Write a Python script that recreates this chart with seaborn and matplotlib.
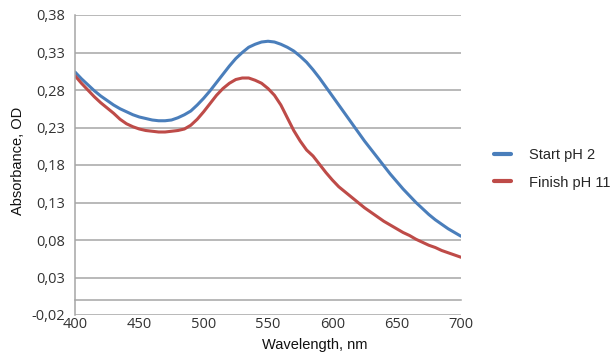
import matplotlib
matplotlib.use("Agg")
import matplotlib.pyplot as plt
from matplotlib.ticker import FuncFormatter
import pandas as pd
import seaborn as sns

# wavelength grid (nm) and absorbance
wavelength = [400, 405, 410, 415, 420, 425, 430, 435, 440, 445,
              450, 455, 460, 465, 470, 475, 480, 485, 490, 495,
              500, 505, 510, 515, 520, 525, 530, 535, 540, 545,
              550, 555, 560, 565, 570, 575, 580, 585, 590, 595,
              600, 605, 610, 615, 620, 625, 630, 635, 640, 645,
              650, 655, 660, 665, 670, 675, 680, 685, 690, 695,
              700]
start_ph2 = [0.304, 0.295, 0.287, 0.279, 0.272, 0.266, 0.260, 0.255, 0.251, 0.247,
             0.244, 0.242, 0.240, 0.239, 0.239, 0.240, 0.243, 0.247, 0.252, 0.260,
             0.269, 0.279, 0.290, 0.301, 0.312, 0.322, 0.330, 0.337, 0.341, 0.344,
             0.345, 0.344, 0.341, 0.337, 0.332, 0.325, 0.317, 0.307, 0.296, 0.284,
             0.272, 0.260, 0.248, 0.236, 0.224, 0.212, 0.201, 0.190, 0.179, 0.168,
             0.158, 0.148, 0.139, 0.130, 0.122, 0.114, 0.107, 0.101, 0.095, 0.090,
             0.085]
finish_ph11 = [0.299, 0.289, 0.280, 0.271, 0.263, 0.256, 0.249, 0.241, 0.235, 0.231,
               0.228, 0.226, 0.225, 0.224, 0.224, 0.225, 0.226, 0.228, 0.233, 0.241,
               0.251, 0.262, 0.273, 0.282, 0.289, 0.294, 0.296, 0.296, 0.293, 0.289,
               0.282, 0.273, 0.260, 0.243, 0.226, 0.212, 0.200, 0.192, 0.181, 0.170,
               0.160, 0.151, 0.144, 0.137, 0.130, 0.123, 0.117, 0.111, 0.105, 0.100,
               0.095, 0.090, 0.086, 0.081, 0.077, 0.073, 0.070, 0.066, 0.063, 0.060,
               0.057]
series_names = ["Start pH 2", "Finish pH 11"]
colors = {"Start pH 2": "#4a7ebb", "Finish pH 11": "#be4b48"}
y_ticks = [-0.02, 0.03, 0.08, 0.13, 0.18, 0.23, 0.28, 0.33, 0.38]
x_ticks = [400, 450, 500, 550, 600, 650, 700]

df = pd.concat([
    pd.DataFrame({"wl": wavelength, "od": start_ph2, "series": series_names[0]}),
    pd.DataFrame({"wl": wavelength, "od": finish_ph11, "series": series_names[1]}),
])

sns.set_style("white")
plt.rcParams["font.family"] = ["Liberation Sans", "DejaVu Sans"]

fig = plt.figure(figsize=(6.13, 3.54), dpi=100)
ax = fig.add_axes([75 / 613, 39 / 354, 386 / 613, 300 / 354])

sns.lineplot(data=df, x="wl", y="od", hue="series", palette=colors,
             hue_order=series_names, linewidth=2.2, ax=ax)

grid_c = "#a6a6a6"
ax.set_xlim(400, 700)
ax.set_ylim(-0.02, 0.38)
ax.set_yticks(y_ticks)
ax.set_xticks(x_ticks)
ax.yaxis.set_major_formatter(FuncFormatter(lambda v, p: f"{v:.2f}".replace(".", ",")))
ax.yaxis.grid(True, color=grid_c, linewidth=1.1)
ax.xaxis.grid(False)
ax.set_axisbelow(True)

for s in ["top", "right"]:
    ax.spines[s].set_visible(False)
ax.spines["left"].set_color(grid_c)
ax.spines["left"].set_linewidth(1.1)
ax.spines["bottom"].set_position(("data", 0))
ax.spines["bottom"].set_color(grid_c)
ax.spines["bottom"].set_linewidth(1.1)

ax.tick_params(axis="y", direction="out", length=4, width=1.1, color=grid_c,
               labelcolor="#333333", pad=3)
ax.tick_params(axis="x", direction="out", length=4, width=1.1, color=grid_c,
               labelcolor="#333333", pad=8.5)
for lab in ax.get_xticklabels() + ax.get_yticklabels():
    lab.set_fontfamily("Open Sans")
    lab.set_fontsize(10.5)

ax.set_xlabel("Wavelength, nm", fontsize=10.5, color="#111111")
ax.set_ylabel("Absorbance, OD", fontsize=10.5, color="#111111")
ax.xaxis.set_label_coords(0.622, -0.075)
ax.yaxis.set_label_coords(-0.13, 0.513)

leg = ax.legend(loc="center left", bbox_to_anchor=(494 / 613, 1 - 169 / 354),
                bbox_transform=fig.transFigure, frameon=False, fontsize=10.5,
                handlelength=1.2, handletextpad=1.2, labelspacing=0.9,
                borderpad=0, borderaxespad=0, title=None)
for line in leg.get_lines():
    line.set_linewidth(3)

fig.savefig("out.png", dpi=100)
